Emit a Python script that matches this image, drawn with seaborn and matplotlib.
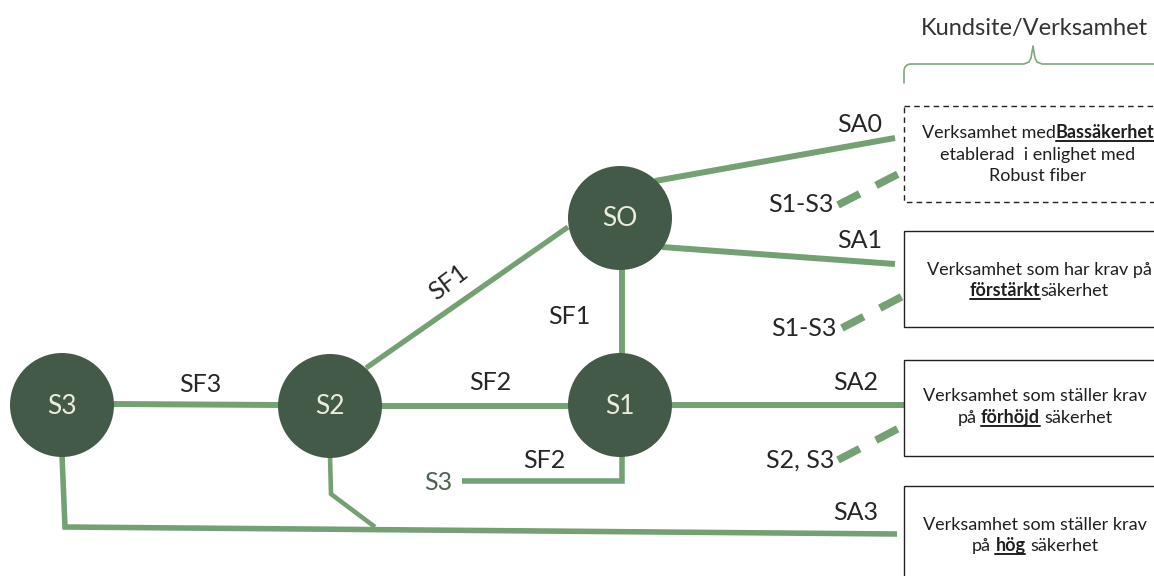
import matplotlib
matplotlib.use("Agg")
import matplotlib.pyplot as plt
import seaborn as sns
import pandas as pd
from matplotlib.patches import Rectangle

# ---- data (pixel coordinates, y down) ----
node_names = ["S3", "S2", "SO", "S1"]
node_x = [62, 330, 620, 620]
node_y = [405, 406, 218, 405]
node_r = 52

# solid links: polylines
link_paths = [
    [(113, 404), (279, 405)],                  # S3-S2
    [(381, 406), (570, 406)],                  # S2-S1
    [(366, 368), (568, 227)],                  # S2-SO
    [(622, 268), (622, 355)],                  # SO-S1
    [(622, 455), (622, 481), (462, 481)],      # S1 -> S3 stub
    [(62, 455), (65, 527), (897, 534)],        # S3 -> SA3
    [(330, 456), (331, 494), (375, 527)],      # S2 -> SA3 line
    [(655, 181), (895, 138)],                  # SO -> SA0
    [(662, 247), (895, 264)],                  # SO -> SA1
    [(672, 405), (905, 405)],                  # S1 -> SA2
]
link_widths = [4.3, 4.3, 3.8, 4.3, 4.0, 4.0, 3.3, 4.3, 4.3, 4.3]

dash_paths = [
    [(838, 205), (902, 172)],
    [(842, 328), (905, 295)],
    [(838, 460), (905, 425)],
]

edge_labels = ["SF3", "SF2", "SF1", "SF1", "SF2", "SA0", "SA1", "SA2", "SA3",
               "S1-S3", "S1-S3", "S2, S3"]
edge_label_x = [200, 490, 448, 569, 544, 860, 860, 856, 856, 801, 804, 800]
edge_label_y = [384, 383, 282, 317, 460, 125, 241, 383, 513, 205, 328, 460]
edge_label_rot = [0, 0, 37, 0, 0, 0, 0, 0, 0, 0, 0, 0]

# customer boxes: top, bottom, dashed?, text centre
box_top = [106, 231, 360, 486]
box_bottom = [202, 327, 456, 600]
box_dashed = [True, False, False, False]
box_center = [1038, 1039, 1035, 1035]
box_lines = [
    [[("Verksamhet med", False), ("Bassäkerhet", True)],
     [("etablerad  i enlighet med", False)],
     [("Robust fiber", False)]],
    [[("Verksamhet som har krav på", False)],
     [("förstärkt", True), ("säkerhet", False)]],
    [[("Verksamhet som ställer krav", False)],
     [("på", False), (" ", False), ("förhöjd", True), (" ", False), ("säkerhet", False)]],
    [[("Verksamhet som ställer krav", False)],
     [("på", False), (" ", False), ("hög", True), (" ", False), ("säkerhet", False)]],
]
box_line_y = [[138, 160, 181], [275, 296], [401, 423], [530, 551]]

# ---- style ----
sns.set_theme(style="white")
plt.rcParams["font.family"] = ["Lato", "DejaVu Sans"]

LINK = "#74a074"
NODE = "#435a48"
TXT = "#262626"

fig = plt.figure(figsize=(11.54, 5.76), dpi=100)
ax = fig.add_axes([0, 0, 1, 1])
ax.set_xlim(0, 1154)
ax.set_ylim(576, 0)
ax.axis("off")

for path, lw in zip(link_paths, link_widths):
    xs, ys = zip(*path)
    ax.plot(xs, ys, color=LINK, lw=lw, solid_capstyle="butt",
            solid_joinstyle="miter", zorder=1)

for path in dash_paths:
    xs, ys = zip(*path)
    ax.plot(xs, ys, color=LINK, lw=5.5, dashes=(3.2, 2.4),
            dash_capstyle="butt", zorder=1)

nodes = pd.DataFrame({"name": node_names, "x": node_x, "y": node_y})
size_pt = (2 * node_r * 72 / 100) ** 2
sns.scatterplot(data=nodes, x="x", y="y", s=size_pt, color=NODE,
                edgecolor="none", linewidth=0, ax=ax, zorder=3, legend=False)
ax.set_xlim(0, 1154)
ax.set_ylim(576, 0)
for _, r in nodes.iterrows():
    ax.text(r["x"], r["y"] + 1, r["name"], color="#ecebdf", fontsize=19,
            ha="center", va="center", zorder=4)

for lab, x, y, rot in zip(edge_labels, edge_label_x, edge_label_y, edge_label_rot):
    ax.text(x, y, lab, fontsize=18, color=TXT, ha="center", va="center",
            rotation=rot, rotation_mode="anchor")
ax.text(438, 482, "S3", fontsize=18, color="#4d6254", ha="center", va="center")

# brace + header
brace_x = [904, 904, 905, 907, 910, 1024, 1029, 1031, 1032, 1033,
           1034, 1035, 1037, 1042, 1160]
brace_y = [83, 70, 67, 65, 64, 64, 62, 58, 52, 46,
           52, 58, 62, 64, 64]
ax.plot(brace_x, brace_y, color="#7fa87f", lw=1.2)
ax.text(1034, 28, "Kundsite/Verksamhet", fontsize=17, color="#333333",
        ha="center", va="center")

renderer = fig.canvas.get_renderer()


def width_of(s, bold, size):
    t = ax.text(0, 0, s, fontsize=size, fontweight="bold" if bold else "normal")
    w = t.get_window_extent(renderer).width
    t.remove()
    return w


def rich_line(xc, y, parts, size=13):
    sp = width_of("x x", False, size) - width_of("xx", False, size)
    ws = [sp if s == " " else width_of(s, b, size) for s, b in parts]
    x = xc - sum(ws) / 2
    for (s, b), w in zip(parts, ws):
        if s != " ":
            ax.text(x, y, s, fontsize=size, color="#1f1f1f", ha="left",
                    va="baseline", fontweight="bold" if b else "normal")
            if b:
                ax.plot([x, x + w], [y + 3, y + 3], color="#1f1f1f", lw=1.4)
        x += w


for top, bot, dashed, xc, lines, ys in zip(box_top, box_bottom, box_dashed,
                                           box_center, box_lines, box_line_y):
    ax.add_patch(Rectangle((904, top), 300, bot - top, fill=False,
                           edgecolor="#222222", lw=1.0,
                           ls=(0, (4, 3)) if dashed else "-", zorder=2))
    for parts, y in zip(lines, ys):
        rich_line(xc, y, parts)

fig.savefig("out.png", dpi=100)
